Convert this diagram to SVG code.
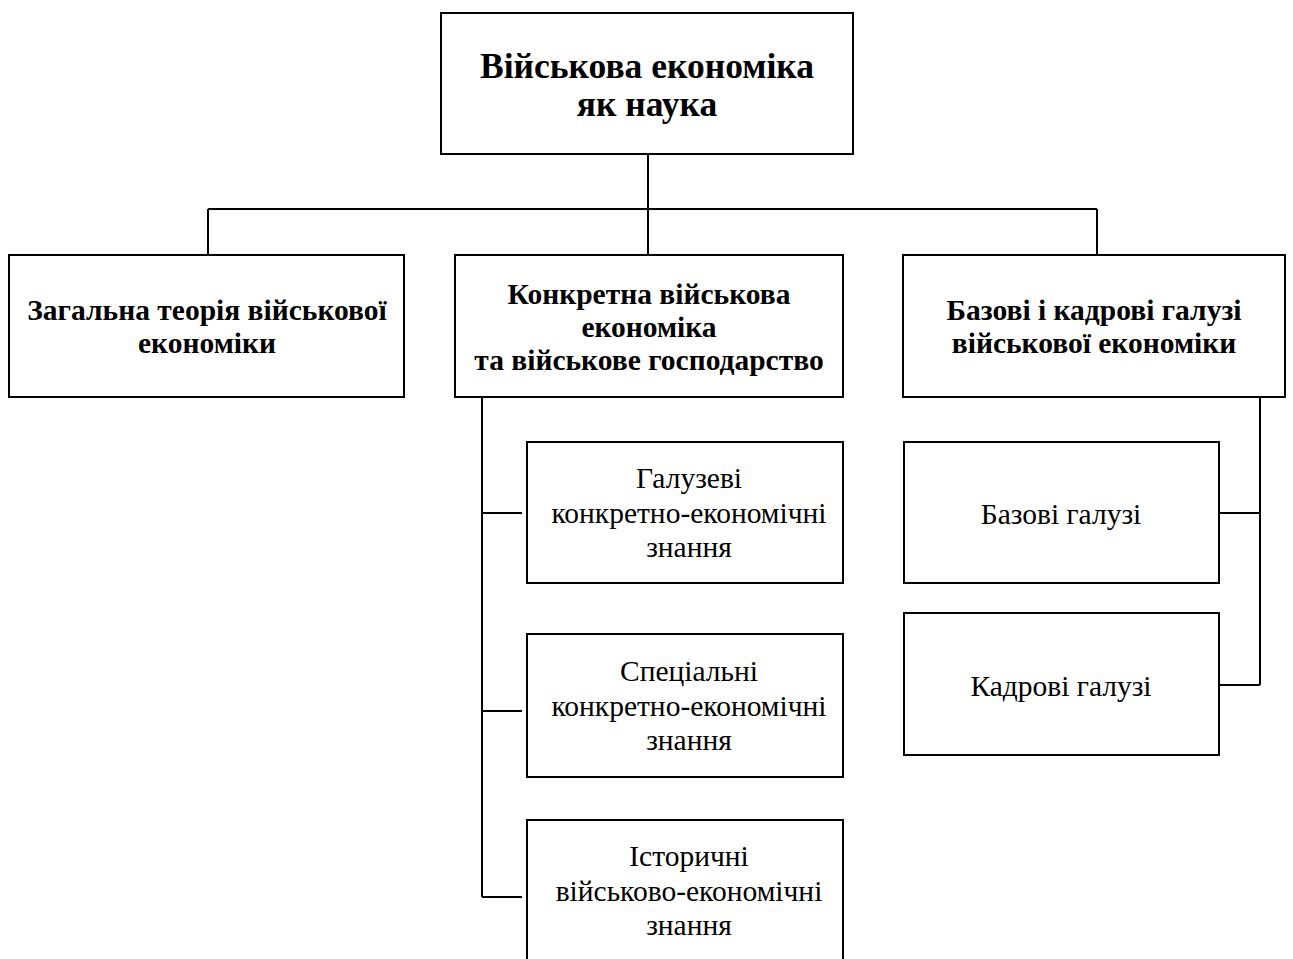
<svg xmlns="http://www.w3.org/2000/svg" width="1293" height="959" viewBox="0 0 1293 959">
<style>
rect{fill:#fff;stroke:#000;stroke-width:2}
.c line{stroke:#000;stroke-width:2}
text{font-family:"Liberation Serif","Times New Roman",serif;fill:#000;text-anchor:middle}
.b{font-weight:bold;font-size:29.5px}
.t{font-weight:bold;font-size:35.5px}
.r{font-size:29.5px}
</style>
<rect x="0" y="0" width="1293" height="959" style="stroke:none"/>
<g class="c">
<line x1="648" y1="154" x2="648" y2="255"/>
<line x1="208" y1="209" x2="1097" y2="209"/>
<line x1="208" y1="209" x2="208" y2="255"/>
<line x1="1097" y1="209" x2="1097" y2="255"/>
<line x1="482" y1="397" x2="482" y2="897"/>
<line x1="482" y1="513" x2="522" y2="513"/>
<line x1="482" y1="711" x2="522" y2="711"/>
<line x1="482" y1="897" x2="522" y2="897"/>
<line x1="1260" y1="397" x2="1260" y2="685"/>
<line x1="1219" y1="513" x2="1260" y2="513"/>
<line x1="1219" y1="685" x2="1260" y2="685"/>
</g>
<g id="root"><rect x="441" y="13" width="412" height="141"/>
<text class="t" x="647" y="78">Військова економіка</text>
<text class="t" x="647" y="116">як наука</text></g>
<g id="general"><rect x="9" y="255" width="395" height="142"/>
<text class="b" x="207" y="320">Загальна теорія військової</text>
<text class="b" x="207" y="353">економіки</text></g>
<g id="concrete"><rect x="455" y="255" width="388" height="142"/>
<text class="b" x="649" y="304">Конкретна військова</text>
<text class="b" x="649" y="337">економіка</text>
<text class="b" x="649" y="370">та військове господарство</text></g>
<g id="base"><rect x="903" y="255" width="382" height="142"/>
<text class="b" x="1094" y="320">Базові і кадрові галузі</text>
<text class="b" x="1094" y="353">військової економіки</text></g>
<g id="branch"><rect x="527" y="442" width="316" height="141"/>
<text class="r" x="689" y="488">Галузеві</text>
<text class="r" x="689" y="523">конкретно-економічні</text>
<text class="r" x="689" y="557">знання</text></g>
<g id="special"><rect x="527" y="634" width="316" height="143"/>
<text class="r" x="689" y="681">Спеціальні</text>
<text class="r" x="689" y="716">конкретно-економічні</text>
<text class="r" x="689" y="750">знання</text></g>
<g id="hist"><rect x="527" y="820" width="316" height="160"/>
<text class="r" x="689" y="866">Історичні</text>
<text class="r" x="689" y="901">військово-економічні</text>
<text class="r" x="689" y="935">знання</text></g>
<g id="basic"><rect x="904" y="442" width="315" height="141"/>
<text class="r" x="1061" y="524">Базові галузі</text></g>
<g id="staff"><rect x="904" y="613" width="315" height="142"/>
<text class="r" x="1061" y="696">Кадрові галузі</text></g>
</svg>
